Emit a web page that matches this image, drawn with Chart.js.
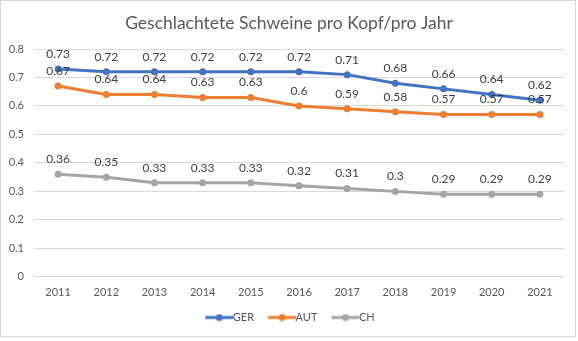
<!DOCTYPE html>
<html>
<head>
<meta charset="utf-8">
<script src="https://cdn.jsdelivr.net/npm/chart.js@4/dist/chart.umd.min.js"></script>
<style>
  html, body { margin: 0; padding: 0; background: #fff; }
  canvas { display: block; }
</style>
</head>
<body>
<canvas id="chart" width="578" height="341"></canvas>
<script>
const years = ['2011', '2012', '2013', '2014', '2015', '2016', '2017', '2018', '2019', '2020', '2021'];
const ger = [0.73, 0.72, 0.72, 0.72, 0.72, 0.72, 0.71, 0.68, 0.66, 0.64, 0.62];
const aut = [0.67, 0.64, 0.64, 0.63, 0.63, 0.6, 0.59, 0.58, 0.57, 0.57, 0.57];
const ch = [0.36, 0.35, 0.33, 0.33, 0.33, 0.32, 0.31, 0.3, 0.29, 0.29, 0.29];

const FONT = "Lato, 'Open Sans', sans-serif";

// legend marker: line with a dot, shifted right so it runs up to the text
function legendMarker(color) {
    const c = document.createElement('canvas');
    c.width = 36;
    c.height = 8;
    const ctx = c.getContext('2d');
    ctx.strokeStyle = color;
    ctx.lineWidth = 3;
    ctx.beginPath();
    ctx.moveTo(8, 4);
    ctx.lineTo(36, 4);
    ctx.stroke();
    ctx.fillStyle = color;
    ctx.beginPath();
    ctx.arc(22, 4, 3.5, 0, Math.PI * 2);
    ctx.fill();
    return c;
}

const frame = {
    id: 'frame',
    beforeDraw(chart) {
        const ctx = chart.ctx;
        ctx.save();
        ctx.fillStyle = '#fff';
        ctx.fillRect(0, 0, chart.width, chart.height);
        ctx.strokeStyle = '#d9d9d9';
        ctx.lineWidth = 1;
        ctx.strokeRect(0.5, 0.5, 575, 336);
        ctx.restore();
    }
};

// title and legend are centred on the whole frame, not the padded area
const centreBoxes = {
    id: 'centreBoxes',
    afterLayout(chart) {
        [chart.legend, chart.titleBlock].forEach(box => {
            box.left += 7;
            box.right += 7;
        });
    }
};

const valueLabels = {
    id: 'valueLabels',
    afterDatasetsDraw(chart) {
        const ctx = chart.ctx;
        ctx.save();
        ctx.font = '12px ' + FONT;
        ctx.fillStyle = '#404040';
        ctx.textAlign = 'center';
        ctx.textBaseline = 'middle';
        chart.data.datasets.forEach((ds, i) => {
            chart.getDatasetMeta(i).data.forEach((pt, j) => {
                ctx.fillText(String(ds.data[j]), pt.x, pt.y - 15);
            });
        });
        ctx.restore();
    }
};

function series(label, data, color) {
    return {
        label: label,
        data: data,
        borderColor: color,
        backgroundColor: color,
        borderWidth: 3,
        pointRadius: 3.5,
        pointHoverRadius: 3.5,
        pointBorderWidth: 0,
        tension: 0,
        markerImage: legendMarker(color)
    };
}

new Chart(document.getElementById('chart'), {
    type: 'line',
    data: {
        labels: years,
        datasets: [
            series('GER', ger, '#4472C4'),
            series('AUT', aut, '#ED7D31'),
            series('CH', ch, '#A5A5A5')
        ]
    },
    options: {
        responsive: false,
        animation: false,
        layout: { padding: { left: 0, right: 14, top: 11, bottom: 8 } },
        plugins: {
            title: {
                display: true,
                text: 'Geschlachtete Schweine pro Kopf/pro Jahr',
                color: '#595959',
                font: { family: FONT, size: 17.5, weight: 'normal' },
                padding: { top: 2, bottom: 15 }
            },
            legend: {
                position: 'bottom',
                labels: {
                    color: '#595959',
                    font: { family: FONT, size: 11 },
                    usePointStyle: true,
                    pointStyleWidth: 24,
                    padding: 12,
                    generateLabels(chart) {
                        return chart.data.datasets.map((ds, i) => ({
                            text: ds.label,
                            fontColor: '#595959',
                            pointStyle: ds.markerImage,
                            datasetIndex: i,
                            hidden: false,
                            lineWidth: 0
                        }));
                    }
                }
            },
            tooltip: { enabled: false }
        },
        scales: {
            x: {
                offset: true,
                grid: { display: false },
                border: { display: false },
                ticks: { color: '#595959', font: { family: FONT, size: 11 }, padding: 1 }
            },
            y: {
                min: 0,
                max: 0.8,
                afterFit(scale) { scale.width = 34; },
                grid: { color: '#d9d9d9', drawTicks: false },
                border: { display: false },
                ticks: {
                    stepSize: 0.1,
                    color: '#595959',
                    font: { family: FONT, size: 11 },
                    padding: 10,
                    callback: v => String(Math.round(v * 10) / 10)
                }
            }
        }
    },
    plugins: [frame, centreBoxes, valueLabels]
});
</script>
</body>
</html>
